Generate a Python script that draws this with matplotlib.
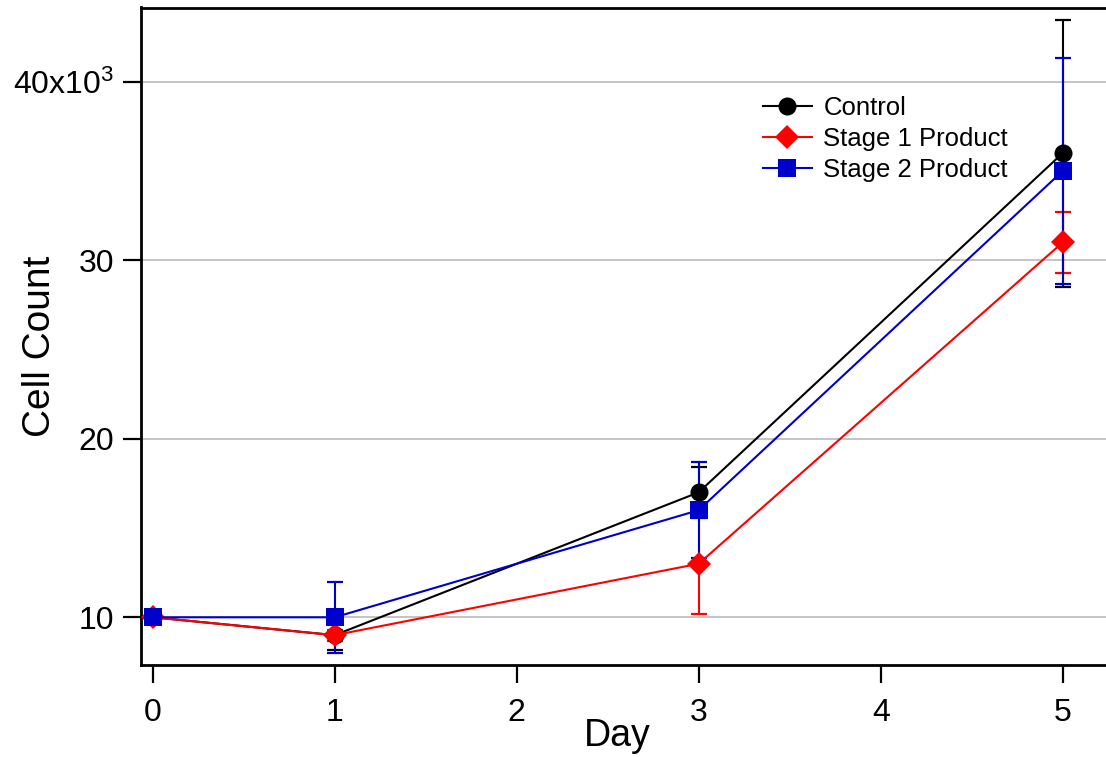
import matplotlib
matplotlib.use("Agg")
import matplotlib.pyplot as plt

plt.rcParams['font.family'] = ['Liberation Sans', 'DejaVu Sans']
plt.rcParams['mathtext.fontset'] = 'custom'
plt.rcParams['mathtext.rm'] = 'Liberation Sans'
plt.rcParams['mathtext.it'] = 'Liberation Sans'

days = [0, 1, 3, 5]
series_names = ["Control", "Stage 1 Product", "Stage 2 Product"]
control = [10000, 9000, 17000, 36000]
control_err = [0, 850, 1420, 7480]
stage1 = [10000, 9000, 13000, 31000]
stage1_err = [0, 300, 2800, 1700]
stage2 = [10000, 10000, 16000, 35000]
stage2_err = [0, 2000, 2680, 6330]
colors = ["#000000", "#ff0000", "#0000cc"]
markers = ["o", "D", "s"]
msizes = [13, 12, 12.5]

yticks = [10000, 20000, 30000, 40000]
yticklabels = ["10", "20", "30", r"40x10$^{3}$"]
xticks = [0, 1, 2, 3, 4, 5]

W, H = 1106, 757
fig = plt.figure(figsize=(W / 100, H / 100), dpi=100)
left, right, top, bottom = 140.7, 1125, 7.5, 665
ax = fig.add_axes([left / W, (H - bottom) / H, (right - left) / W, (bottom - top) / H])

handles = []
for vals, errs, c, m, ms, name in zip([control, stage1, stage2],
                                      [control_err, stage1_err, stage2_err],
                                      colors, markers, msizes, series_names):
    cont = ax.errorbar(days, vals, yerr=errs, color=c, marker=m, markersize=ms,
                       linewidth=1.5, elinewidth=1.5, capsize=6, capthick=1.6,
                       label=name, zorder=3)
    cont.lines[0].set_markeredgewidth(0)
    handles.append(cont.lines[0])

ax.set_xlim(-12 / 182, (right - 152.7) / 182)
ax.set_ylim(10000 - (bottom - 617.3) / 17.853 * 1000, 40000 + (81.7 - top) / 17.853 * 1000)

ax.set_yticks(yticks)
ax.set_yticklabels(yticklabels)
ax.set_xticks(xticks)
ax.tick_params(axis='both', direction='out', length=13, width=1.6, labelsize=23)
ax.tick_params(axis='y', pad=6)
ax.tick_params(axis='x', pad=11)

ax.grid(axis='y', color='#b4b4b4', linewidth=1.1)
ax.set_axisbelow(True)
for s in ['left', 'bottom', 'top']:
    ax.spines[s].set_linewidth(2.0)
ax.spines['right'].set_visible(False)

ax.set_xlabel("Day", fontsize=27)
ax.xaxis.set_label_coords((617.5 - left) / (right - left), -(746 - bottom) / (bottom - top), transform=ax.transAxes)
ax.xaxis.label.set_verticalalignment('baseline')
ax.set_ylabel("Cell Count", fontsize=28)
ax.yaxis.set_label_coords(-(140.7 - 40) / (right - left), (bottom - 346) / (bottom - top))
ax.yaxis.label.set_verticalalignment('center')

ax.legend(handles=handles, labels=series_names, loc='upper left',
          bbox_to_anchor=(763 / W, 1 - 96 / H), bbox_transform=fig.transFigure,
          frameon=False, fontsize=18.5, handlelength=1.9, handletextpad=0.45,
          labelspacing=0.27, borderpad=0, borderaxespad=0)

fig.savefig("out.png", dpi=100)
